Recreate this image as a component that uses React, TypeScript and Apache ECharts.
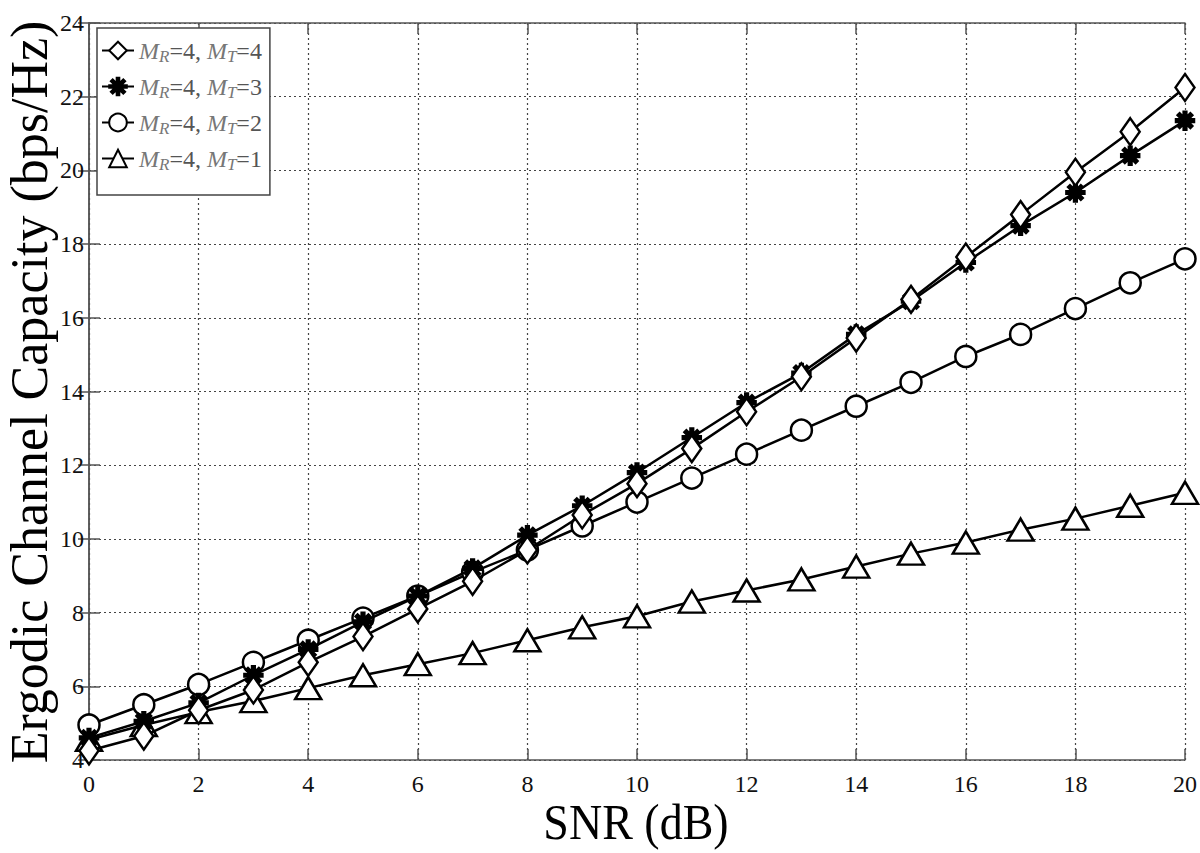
import React, { useEffect, useRef } from "react";
import * as echarts from "echarts";

const snr = [0, 1, 2, 3, 4, 5, 6, 7, 8, 9, 10, 11, 12, 13, 14, 15, 16, 17, 18, 19, 20];
const capMT4 = [4.25, 4.65, 5.35, 5.9, 6.65, 7.35, 8.1, 8.85, 9.7, 10.65, 11.5, 12.45, 13.45, 14.4, 15.45, 16.5, 17.65, 18.8, 19.95, 21.05, 22.25];
const capMT3 = [4.6, 5.05, 5.55, 6.3, 7.0, 7.75, 8.45, 9.2, 10.1, 10.9, 11.8, 12.75, 13.7, 14.5, 15.55, 16.45, 17.5, 18.5, 19.4, 20.4, 21.35];
const capMT2 = [4.95, 5.5, 6.05, 6.65, 7.25, 7.85, 8.45, 9.1, 9.7, 10.35, 11.0, 11.65, 12.3, 12.95, 13.6, 14.25, 14.95, 15.55, 16.25, 16.95, 17.6];
const capMT1 = [4.55, 4.95, 5.3, 5.6, 5.95, 6.3, 6.6, 6.9, 7.25, 7.6, 7.9, 8.3, 8.6, 8.9, 9.25, 9.6, 9.9, 10.25, 10.55, 10.9, 11.25];
const mrValues = [4, 4, 4, 4];
const mtValues = [4, 3, 2, 1];
const seriesNames = ["MR=4, MT=4", "MR=4, MT=3", "MR=4, MT=2", "MR=4, MT=1"];
const xTitle = "SNR (dB)";
const yTitle = "Ergodic Channel Capacity (bps/Hz)";

const SERIF = "'Liberation Serif', 'Times New Roman', serif";
const STAR =
  "path://M-10,-1.5L10,-1.5L10,1.5L-10,1.5Z M-1.5,-10L1.5,-10L1.5,10L-1.5,10Z M-8.13,-6.01L-6.01,-8.13L8.13,6.01L6.01,8.13Z M-6.01,8.13L-8.13,6.01L6.01,-8.13L8.13,-6.01Z";

export default function App() {
  const ref = useRef<HTMLDivElement>(null);
  useEffect(() => {
    if (!ref.current) return;
    const chart = echarts.init(ref.current, undefined, { renderer: "svg" });
    const dataSets = [capMT4, capMT3, capMT2, capMT1];
    const symbols = ["diamond", STAR, "circle", "triangle"];
    const sizes: any[] = [[19, 27], 18, 21, [26, 22]];
    const fills = ["#fff", "#000", "#fff", "#fff"];
    const series = dataSets.map((d, i) => ({
      name: seriesNames[i],
      type: "line",
      data: snr.map((x, j) => [x, d[j]]),
      symbol: symbols[i],
      symbolSize: sizes[i],
      showAllSymbol: true,
      lineStyle: { color: "#000", width: 2.5 },
      itemStyle: { color: fills[i], borderColor: "#000", borderWidth: 2.5 },
      z: 10 - i,
    }));
    const gridLine = { show: true, lineStyle: { color: "#444", type: [2, 3] as any, width: 1.2 } };
    const axisLine = { show: true, lineStyle: { color: "#555", width: 1.5 } };
    const axisTick = { show: true, inside: true, length: 11, lineStyle: { color: "#555", width: 1.5 } };
    chart.setOption({
      animation: false,
      backgroundColor: "#fff",
      grid: { left: 89, right: 15, top: 23, bottom: 93, outerBoundsMode: "none" },
      graphic: [
        {
          type: "text",
          x: 636,
          y: 822,
          scaleY: 1.12,
          style: { text: xTitle, fontFamily: SERIF, fontSize: 46, fill: "#000", align: "center", verticalAlign: "middle" },
        },
        {
          type: "text",
          x: 29,
          y: 392,
          rotation: Math.PI / 2,
          style: { text: yTitle, fontFamily: SERIF, fontSize: 52, fill: "#000", align: "center", verticalAlign: "middle" },
        },
      ],
      legend: {
        orient: "vertical",
        left: 97,
        top: 28,
        backgroundColor: "#fff",
        borderColor: "#444",
        borderWidth: 1.5,
        borderRadius: 0,
        padding: [8, 8, 22, 4],
        itemWidth: 32,
        itemHeight: 22,
        itemGap: 7,
        data: seriesNames,
        formatter: (name: string) => {
          const i = seriesNames.indexOf(name);
          return `{i|M}{s|R}{n|=${mrValues[i]}, }{i|M}{s|T}{n|=${mtValues[i]}}`;
        },
        textStyle: {
          color: "#666",
          fontFamily: SERIF,
          fontSize: 24,
          rich: {
            i: { fontFamily: SERIF, fontStyle: "italic", fontSize: 24, color: "#777", lineHeight: 30 },
            s: { fontFamily: SERIF, fontStyle: "italic", fontSize: 17, color: "#777", padding: [12, 0, 0, 0], lineHeight: 30 },
            n: { fontFamily: SERIF, fontSize: 24, color: "#555", lineHeight: 30 },
          },
        },
      },
      xAxis: [
        {
          type: "value",
          min: 0,
          max: 20,
          interval: 2,
          position: "bottom",
          axisLine,
          axisTick,
          axisLabel: { fontFamily: SERIF, fontSize: 24, color: "#111", margin: 12 },
          splitLine: gridLine,
        },
        {
          type: "value",
          min: 0,
          max: 20,
          interval: 2,
          position: "top",
          axisLine,
          axisTick,
          axisLabel: { show: false },
          splitLine: { show: false },
        },
      ],
      yAxis: [
        {
          type: "value",
          min: 4,
          max: 24,
          interval: 2,
          position: "left",
          axisLine,
          axisTick,
          axisLabel: { fontFamily: SERIF, fontSize: 24, color: "#111", margin: 5 },
          splitLine: gridLine,
        },
        {
          type: "value",
          min: 4,
          max: 24,
          interval: 2,
          position: "right",
          axisLine,
          axisTick,
          axisLabel: { show: false },
          splitLine: { show: false },
        },
      ],
      series,
    });
    return () => chart.dispose();
  }, []);
  return (
    <div
      ref={ref}
      style={{ position: "fixed", left: 0, top: 0, width: 1200, height: 853, background: "#fff" }}
    />
  );
}
